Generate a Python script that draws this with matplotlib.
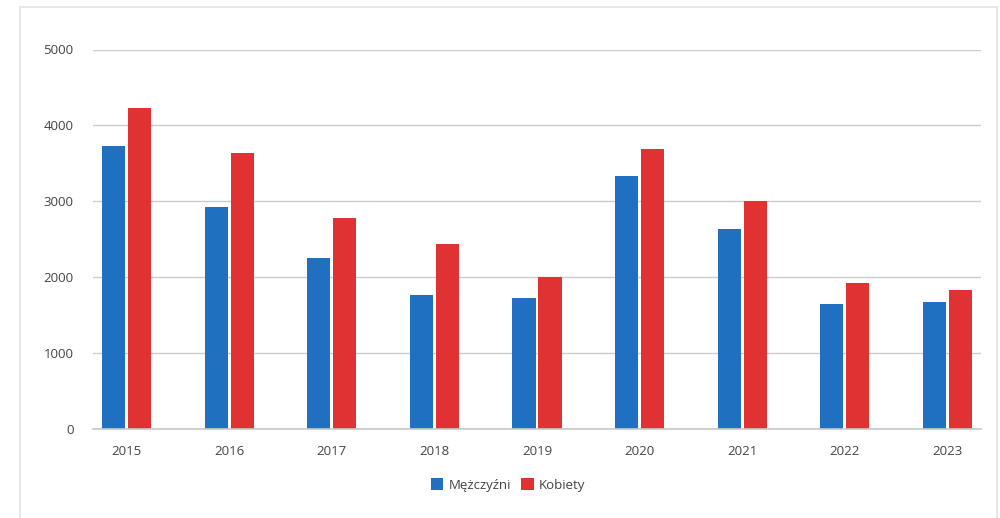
import matplotlib
matplotlib.use("Agg")
import matplotlib.pyplot as plt
import numpy as np
from matplotlib.patches import Rectangle

years = ["2015", "2016", "2017", "2018", "2019", "2020", "2021", "2022", "2023"]
men = [3730, 2930, 2255, 1765, 1725, 3340, 2635, 1655, 1680]
women = [4225, 3640, 2785, 2445, 2010, 3685, 3010, 1920, 1840]

blue = "#1f70c1"
red = "#e03232"
text_color = "#444444"

plt.rcParams['font.family'] = ['Open Sans', 'DejaVu Sans']

fig = plt.figure(figsize=(10, 5.18), dpi=100)

# light frame around the chart box
fig.patches.append(Rectangle((20 / 1000, -0.05), 977 / 1000, 1 - 6.5 / 518 + 0.05,
                             transform=fig.transFigure, fill=False,
                             edgecolor="#e3e3e3", linewidth=1.2))

ax = fig.add_axes([93 / 1000, 1 - 429.3 / 518, 888 / 1000, 379.8 / 518])

x = np.arange(len(years))
w = 0.225
off = 0.127
ax.bar(x - off, men, width=w, color=blue, label="Mężczyźni", zorder=3)
ax.bar(x + off, women, width=w, color=red, label="Kobiety", zorder=3)
ax.axhline(0, color="#c8c8c8", linewidth=1.2, zorder=4, clip_on=False)

ax.set_xlim(-0.33, 8.33)
ax.set_ylim(0, 5000)
ax.set_yticks(range(0, 5001, 1000))
ax.set_xticks(x)
ax.set_xticklabels(years)
ax.grid(axis="y", color="#cccccc", linewidth=1, zorder=0)
ax.tick_params(axis="both", length=0, labelsize=9.5, colors=text_color)
ax.tick_params(axis="x", pad=11)
ax.tick_params(axis="y", pad=14)
for s in ax.spines.values():
    s.set_visible(False)

ax.legend(loc="center", bbox_to_anchor=(0.508, 1 - 485 / 518), bbox_transform=fig.transFigure,
          ncol=2, frameon=False, fontsize=9.5, handlelength=0.95, handleheight=0.95,
          handletextpad=0.4, columnspacing=0.8, labelcolor=text_color)

plt.savefig("out.png", dpi=100)
